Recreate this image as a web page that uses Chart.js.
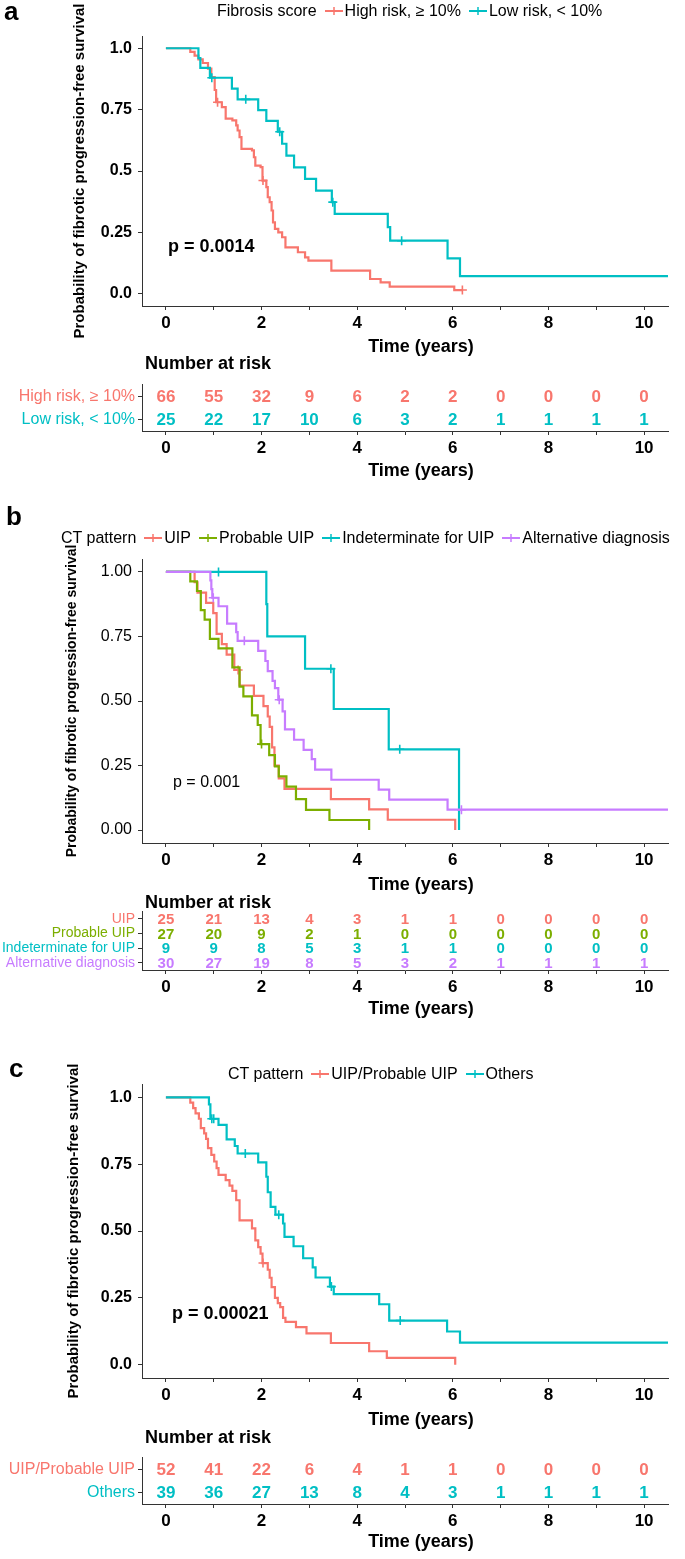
<!DOCTYPE html>
<html>
<head>
<meta charset="utf-8">
<script src="https://cdn.jsdelivr.net/npm/chart.js@4.4.1/dist/chart.umd.min.js"></script>
<style>
    body { margin: 0; background: #fff; font-family: "Liberation Sans", Arial, sans-serif; }
    #page { position: relative; width: 685px; height: 1559px; overflow: hidden; }
    canvas { position: absolute; left: 0; }
    .txt { position: absolute; white-space: nowrap; color: #000; line-height: 1; }
    .letter { font-size: 26px; font-weight: bold; }
    .legend { position: absolute; display: flex; align-items: center; height: 16px; font-size: 16px; line-height: 16px; white-space: nowrap; }
    .legend svg { margin: 0 2px 0 8px; }
    .xtitle { left: 321px; width: 200px; text-align: center; font-size: 18px; font-weight: bold; }
    .risk-title { left: 145px; font-size: 18px; font-weight: bold; }
</style>
</head>
<body>
<div id="page">
    <canvas id="kmA" width="685" height="345" style="top:0px"></canvas>
    <canvas id="riskA" width="685" height="90" style="top:372px"></canvas>
    <canvas id="kmB" width="685" height="380" style="top:500px"></canvas>
    <canvas id="riskB" width="685" height="100" style="top:900px"></canvas>
    <canvas id="kmC" width="685" height="380" style="top:1040px"></canvas>
    <canvas id="riskC" width="685" height="95" style="top:1445px"></canvas>

    <div class="txt letter" style="left:4px;top:-2px">a</div>
    <div class="txt letter" style="left:6px;top:503px">b</div>
    <div class="txt letter" style="left:9px;top:1055px">c</div>

    <div class="legend" id="legendA" style="left:217px;top:3px"></div>
    <div class="legend" id="legendB" style="left:61px;top:530px"></div>
    <div class="legend" id="legendC" style="left:228px;top:1066px"></div>

    <div class="txt" style="left:168px;top:237px;font-size:18px;font-weight:bold">p = 0.0014</div>
    <div class="txt" style="left:173px;top:774px;font-size:16px">p = 0.001</div>
    <div class="txt" style="left:172px;top:1304px;font-size:18px;font-weight:bold">p = 0.00021</div>

    <div class="txt xtitle" style="top:337px">Time (years)</div>
    <div class="txt xtitle" style="top:461px">Time (years)</div>
    <div class="txt xtitle" style="top:875px">Time (years)</div>
    <div class="txt xtitle" style="top:999px">Time (years)</div>
    <div class="txt xtitle" style="top:1410px">Time (years)</div>
    <div class="txt xtitle" style="top:1532px">Time (years)</div>

    <div class="txt risk-title" style="top:354px">Number at risk</div>
    <div class="txt risk-title" style="top:893px">Number at risk</div>
    <div class="txt risk-title" style="top:1428px">Number at risk</div>
</div>
<script>
// ##### Data #####

const timeTicks = [0, 1, 2, 3, 4, 5, 6, 7, 8, 9, 10]
const yTitle = 'Probability of fibrotic progression-free survival'

// panel a - fibrosis score
const aLegendTitle = 'Fibrosis score'
const aNames = ['High risk, ≥ 10%', 'Low risk, < 10%']
const aColors = ['#F8766D', '#00BFC4']
const aHighTime = [0, 0.51, 0.6, 0.68, 0.77, 0.88, 0.95, 1.02, 1.05, 1.17, 1.25, 1.39, 1.47, 1.5, 1.54, 1.58, 1.8, 1.84, 1.87, 1.98, 2.02, 2.1, 2.13, 2.17, 2.21, 2.24, 2.28, 2.35, 2.43, 2.5, 2.76, 2.91, 2.98, 3.46, 4.27, 4.49, 4.68, 6.03, 6.2]
const aHighSurv = [1, 0.985, 0.97, 0.955, 0.94, 0.917, 0.883, 0.83, 0.78, 0.76, 0.713, 0.706, 0.686, 0.665, 0.638, 0.59, 0.584, 0.556, 0.522, 0.516, 0.461, 0.434, 0.393, 0.373, 0.339, 0.291, 0.264, 0.25, 0.23, 0.189, 0.169, 0.148, 0.135, 0.094, 0.06, 0.046, 0.029, 0.015, 0.015]
const aHighCensor = [1.08, 2.03, 6.2]
const aLowTime = [0, 0.68, 0.72, 0.92, 1.38, 1.5, 1.93, 2.1, 2.34, 2.43, 2.52, 2.68, 2.91, 3.14, 3.47, 3.53, 4.64, 4.69, 5.89, 6.15, 10.5]
const aLowSurv = [1, 0.96, 0.92, 0.88, 0.836, 0.792, 0.748, 0.704, 0.66, 0.611, 0.563, 0.515, 0.468, 0.42, 0.373, 0.325, 0.271, 0.216, 0.144, 0.072, 0.072]
const aLowCensor = [0.96, 1.67, 2.38, 3.49, 4.93]
const aHighRisk = [66, 55, 32, 9, 6, 2, 2, 0, 0, 0, 0]
const aLowRisk = [25, 22, 17, 10, 6, 3, 2, 1, 1, 1, 1]

// panel b - CT pattern (4 groups)
const bLegendTitle = 'CT pattern'
const bNames = ['UIP', 'Probable UIP', 'Indeterminate for UIP', 'Alternative diagnosis']
const bColors = ['#F8766D', '#7CAE00', '#00BFC4', '#C77CFF']
const bUipTime = [0, 0.6, 0.66, 0.84, 0.99, 1.06, 1.17, 1.27, 1.43, 1.54, 1.84, 2.04, 2.13, 2.17, 2.22, 2.27, 2.36, 2.48, 3.45, 4.25, 4.64, 6.05]
const bUipSurv = [1, 0.96, 0.92, 0.88, 0.84, 0.76, 0.72, 0.68, 0.62, 0.56, 0.52, 0.48, 0.44, 0.4, 0.32, 0.25, 0.2, 0.16, 0.12, 0.08, 0.04, 0]
const bUipCensor = [1.51]
const bProbTime = [0, 0.51, 0.65, 0.73, 0.81, 0.92, 1.1, 1.39, 1.54, 1.62, 1.8, 1.92, 1.98, 2.16, 2.28, 2.36, 2.52, 2.72, 2.93, 3.42, 4.25]
const bProbSurv = [1, 0.963, 0.926, 0.852, 0.815, 0.741, 0.704, 0.63, 0.556, 0.518, 0.444, 0.407, 0.333, 0.29, 0.247, 0.208, 0.168, 0.12, 0.078, 0.039, 0]
const bProbCensor = [2.0]
const bIndTime = [0, 2.1, 2.12, 2.91, 3.51, 4.66, 6.13]
const bIndSurv = [1, 0.875, 0.75, 0.625, 0.469, 0.313, 0]
const bIndCensor = [1.1, 3.45, 4.89]
const bAltTime = [0, 0.93, 0.95, 0.97, 1.1, 1.28, 1.47, 1.5, 1.93, 2.08, 2.13, 2.23, 2.28, 2.35, 2.44, 2.49, 2.68, 2.88, 3.05, 3.12, 3.46, 4.45, 4.67, 5.89, 10.5]
const bAltSurv = [1, 0.967, 0.933, 0.9, 0.867, 0.8, 0.767, 0.733, 0.694, 0.655, 0.616, 0.578, 0.55, 0.505, 0.46, 0.39, 0.35, 0.311, 0.275, 0.234, 0.195, 0.157, 0.118, 0.079, 0.079]
const bAltCensor = [0.99, 1.64, 2.37, 6.18]
const bUipRisk = [25, 21, 13, 4, 3, 1, 1, 0, 0, 0, 0]
const bProbRisk = [27, 20, 9, 2, 1, 0, 0, 0, 0, 0, 0]
const bIndRisk = [9, 9, 8, 5, 3, 1, 1, 0, 0, 0, 0]
const bAltRisk = [30, 27, 19, 8, 5, 3, 2, 1, 1, 1, 1]

// panel c - CT pattern (2 groups)
const cLegendTitle = 'CT pattern'
const cNames = ['UIP/Probable UIP', 'Others']
const cColors = ['#F8766D', '#00BFC4']
const cUipTime = [0, 0.51, 0.57, 0.62, 0.69, 0.73, 0.8, 0.84, 0.88, 0.95, 1.01, 1.06, 1.1, 1.25, 1.33, 1.39, 1.47, 1.54, 1.8, 1.87, 1.93, 1.98, 2.02, 2.13, 2.17, 2.21, 2.28, 2.34, 2.39, 2.45, 2.5, 2.72, 2.94, 3.45, 4.25, 4.62, 6.05]
const cUipSurv = [1, 0.98, 0.96, 0.94, 0.92, 0.885, 0.865, 0.845, 0.81, 0.785, 0.76, 0.735, 0.71, 0.69, 0.67, 0.65, 0.615, 0.54, 0.51, 0.465, 0.44, 0.415, 0.38, 0.355, 0.325, 0.29, 0.25, 0.23, 0.215, 0.175, 0.16, 0.14, 0.117, 0.081, 0.05, 0.025, 0]
const cUipCensor = [2.03]
const cOthTime = [0, 0.9, 0.93, 1.1, 1.27, 1.44, 1.5, 1.93, 2.1, 2.13, 2.19, 2.29, 2.45, 2.48, 2.67, 2.87, 3.07, 3.13, 3.43, 3.51, 4.46, 4.67, 5.88, 6.15, 10.5]
const cOthSurv = [1, 0.974, 0.92, 0.897, 0.843, 0.818, 0.79, 0.757, 0.703, 0.645, 0.59, 0.561, 0.528, 0.478, 0.443, 0.398, 0.364, 0.326, 0.292, 0.264, 0.226, 0.165, 0.124, 0.082, 0.082]
const cOthCensor = [0.96, 1.0, 1.66, 2.36, 3.46, 4.9]
const cUipRisk = [52, 41, 22, 6, 4, 1, 1, 0, 0, 0, 0]
const cOthRisk = [39, 36, 27, 13, 8, 4, 3, 1, 1, 1, 1]

const yTickValues = [0, 0.25, 0.5, 0.75, 1]
const aYLabels = ['0.0', '0.25', '0.5', '0.75', '1.0']
const bYLabels = ['0.00', '0.25', '0.50', '0.75', '1.00']
const cYLabels = ['0.0', '0.25', '0.50', '0.75', '1.0']

// ##### Helpers #####

Chart.defaults.font.family = '"Liberation Sans", Arial, sans-serif'
Chart.defaults.color = '#000'

const axisColor = '#333'

// survival value at time t (value of the step curve)
function survAt(times, surv, t) {
    let s = 1
    times.forEach((time, i) => {
        if (time <= t) s = surv[i]
    })
    return s
}

function xScale(height, labelPad) {
    return {
        type: 'linear',
        min: -0.5,
        max: 10.5,
        afterBuildTicks: (scale) => {
            scale.ticks = timeTicks.map((v) => ({ value: v }))
        },
        afterFit: (scale) => {
            scale.height = height
        },
        grid: { drawOnChartArea: false, tickLength: 4, color: axisColor },
        border: { color: axisColor, width: 1 },
        ticks: {
            autoSkip: false,
            maxRotation: 0,
            padding: labelPad,
            color: '#000',
            font: { size: 17, weight: 'bold' },
            callback: (v) => (v % 2 === 0 ? String(v) : ''),
        },
    }
}

// draws the numbers of the risk table at the scale positions
const riskText = {
    id: 'riskText',
    afterDatasetsDraw(chart) {
        const ctx = chart.ctx
        chart.data.datasets.forEach((ds, i) => {
            if (!ds.counts) return
            const meta = chart.getDatasetMeta(i)
            ctx.save()
            ctx.font = `bold ${ds.textSize}px "Liberation Sans", Arial, sans-serif`
            ctx.fillStyle = ds.textColor
            ctx.textAlign = 'center'
            ctx.textBaseline = 'middle'
            meta.data.forEach((pt, j) => {
                ctx.fillText(String(ds.counts[j]), pt.x, pt.y + 1)
            })
            ctx.restore()
        })
    },
}

function createKM(canvasId, box, curves, yLabels, boldY, titleX, titleSize) {
    const datasets = []
    curves.forEach((c, i) => {
        const order = 2 * (curves.length - i)
        datasets.push({
            type: 'line',
            data: c.time.map((t, j) => ({ x: t, y: c.surv[j] })),
            borderColor: c.color,
            borderWidth: 2.2,
            stepped: true,
            pointRadius: 0,
            fill: false,
            order: order,
        })
        datasets.push({
            type: 'scatter',
            data: c.censor.map((t) => ({ x: t, y: survAt(c.time, c.surv, t) })),
            pointStyle: 'cross',
            pointRadius: 4.5,
            borderColor: c.color,
            borderWidth: 1.6,
            order: order - 1,
        })
    })

    const el = document.getElementById(canvasId)
    new Chart(el.getContext('2d'), {
        type: 'line',
        data: { datasets: datasets },
        options: {
            responsive: false,
            animation: false,
            devicePixelRatio: 1,
            layout: {
                padding: { left: 0, right: 685 - box.right, top: box.top, bottom: 0 },
            },
            plugins: { legend: { display: false }, tooltip: { enabled: false } },
            scales: {
                x: xScale(el.height - box.bottom, 3),
                y: {
                    type: 'linear',
                    min: -0.05,
                    max: 1.05,
                    afterBuildTicks: (scale) => {
                        scale.ticks = yTickValues.map((v) => ({ value: v }))
                    },
                    afterFit: (scale) => {
                        scale.width = box.left
                    },
                    grid: { drawOnChartArea: false, tickLength: 4, color: axisColor },
                    border: { color: axisColor, width: 1 },
                    ticks: {
                        padding: 6,
                        color: '#000',
                        font: { size: 16, weight: boldY ? 'bold' : 'normal' },
                        callback: (v, i) => yLabels[i],
                    },
                    title: {
                        display: true,
                        text: yTitle,
                        color: '#000',
                        font: { size: titleSize, weight: 'bold' },
                        padding: { top: titleX - titleSize * 0.6, bottom: 0 },
                    },
                },
            },
        },
    })
}

function createRisk(canvasId, box, rows, labelSize, numSize) {
    const el = document.getElementById(canvasId)
    new Chart(el.getContext('2d'), {
        type: 'scatter',
        data: {
            datasets: rows.map((r) => ({
                data: timeTicks.map((t) => ({ x: t, y: r.name })),
                counts: r.counts,
                textColor: r.color,
                textSize: numSize,
                pointRadius: 0,
            })),
        },
        options: {
            responsive: false,
            animation: false,
            devicePixelRatio: 1,
            layout: {
                padding: { left: 0, right: 685 - box.right, top: box.top, bottom: 0 },
            },
            plugins: { legend: { display: false }, tooltip: { enabled: false } },
            scales: {
                x: xScale(el.height - box.bottom, 3),
                y: {
                    type: 'category',
                    labels: rows.map((r) => r.name),
                    offset: true,
                    afterFit: (scale) => {
                        scale.width = box.left
                    },
                    grid: { drawOnChartArea: false, tickLength: 4, color: axisColor },
                    border: { color: axisColor, width: 1 },
                    ticks: {
                        autoSkip: false,
                        padding: 3,
                        font: { size: labelSize },
                        color: (ctx) => rows[ctx.index].color,
                    },
                },
            },
        },
        plugins: [riskText],
    })
}

function buildLegend(id, title, names, colors) {
    const legend = document.getElementById(id)
    let html = `<span>${title}</span>`
    names.forEach((name, i) => {
        html += `<svg width="18" height="12"><line x1="0" y1="6" x2="18" y2="6" stroke="${colors[i]}" stroke-width="2"/><line x1="9" y1="2" x2="9" y2="10" stroke="${colors[i]}" stroke-width="1.5"/></svg><span>${name}</span>`
    })
    legend.innerHTML = html
}

// ##### Legends #####

buildLegend('legendA', aLegendTitle, aNames, aColors)
buildLegend('legendB', bLegendTitle, bNames, bColors)
buildLegend('legendC', cLegendTitle, cNames, cColors)

// ##### Survival curves #####

createKM(
    'kmA',
    { left: 142, right: 668, top: 36, bottom: 306 },
    [
        { time: aHighTime, surv: aHighSurv, censor: aHighCensor, color: aColors[0] },
        { time: aLowTime, surv: aLowSurv, censor: aLowCensor, color: aColors[1] },
    ],
    aYLabels,
    true,
    80,
    15
)

createKM(
    'kmB',
    { left: 142, right: 668, top: 59, bottom: 343 },
    [
        { time: bUipTime, surv: bUipSurv, censor: bUipCensor, color: bColors[0] },
        { time: bProbTime, surv: bProbSurv, censor: bProbCensor, color: bColors[1] },
        { time: bIndTime, surv: bIndSurv, censor: bIndCensor, color: bColors[2] },
        { time: bAltTime, surv: bAltSurv, censor: bAltCensor, color: bColors[3] },
    ],
    bYLabels,
    false,
    72,
    14
)

createKM(
    'kmC',
    { left: 142, right: 668, top: 44, bottom: 338 },
    [
        { time: cUipTime, surv: cUipSurv, censor: cUipCensor, color: cColors[0] },
        { time: cOthTime, surv: cOthSurv, censor: cOthCensor, color: cColors[1] },
    ],
    cYLabels,
    true,
    74,
    15
)

// ##### Risk tables #####

createRisk(
    'riskA',
    { left: 142, right: 668, top: 12, bottom: 59 },
    [
        { name: aNames[0], counts: aHighRisk, color: aColors[0] },
        { name: aNames[1], counts: aLowRisk, color: aColors[1] },
    ],
    16,
    17
)

createRisk(
    'riskB',
    { left: 142, right: 668, top: 11, bottom: 70 },
    [
        { name: bNames[0], counts: bUipRisk, color: bColors[0] },
        { name: bNames[1], counts: bProbRisk, color: bColors[1] },
        { name: bNames[2], counts: bIndRisk, color: bColors[2] },
        { name: bNames[3], counts: bAltRisk, color: bColors[3] },
    ],
    14,
    15
)

createRisk(
    'riskC',
    { left: 142, right: 668, top: 10, bottom: 59 },
    [
        { name: cNames[0], counts: cUipRisk, color: cColors[0] },
        { name: cNames[1], counts: cOthRisk, color: cColors[1] },
    ],
    16,
    17
)
</script>
</body>
</html>
